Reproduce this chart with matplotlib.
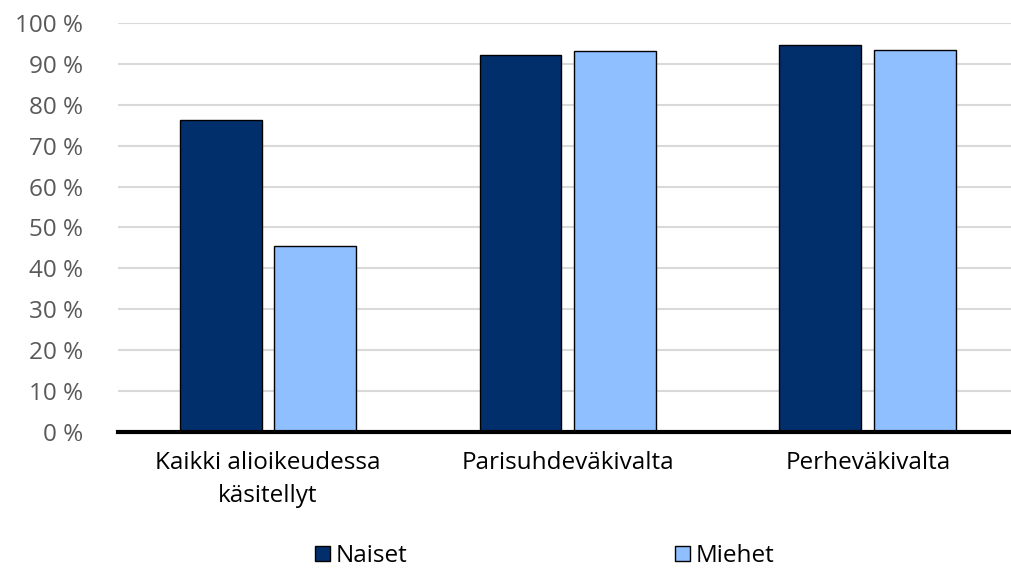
import matplotlib.pyplot as plt
import numpy as np

plt.rcParams['font.family'] = ['Open Sans', 'DejaVu Sans']

categories = ['Kaikki alioikeudessa\nkäsitellyt', 'Parisuhdeväkivalta', 'Perheväkivalta']
naiset = [76.3, 92.2, 94.6]
miehet = [45.5, 93.2, 93.4]
yticks = list(range(0, 101, 10))

fig = plt.figure(figsize=(10.11, 5.79), dpi=100)
ax = fig.add_axes([0.1167, 0.2539, 0.89, 0.7064])

x = np.arange(len(categories))
w = 0.273
off = 0.158
ax.bar(x - off, naiset, w, color='#002f6c', edgecolor='black', linewidth=1, label='Naiset', zorder=3)
ax.bar(x + off, miehet, w, color='#8fbfff', edgecolor='black', linewidth=1, label='Miehet', zorder=3)

ax.set_xlim(-0.5, 2.5)
ax.set_ylim(0, 100)
ax.set_yticks(yticks)
ax.set_yticklabels([f'{t} %' for t in yticks], color='#595959', fontsize=17.5)
ax.set_xticks(x)
ax.set_xticklabels(categories, fontsize=17.5, color='black', linespacing=1.45)
ax.tick_params(axis='x', length=0, pad=14)
ax.tick_params(axis='y', length=0, pad=25)
ax.grid(axis='y', color='#d9d9d9', linewidth=1.5, zorder=0)
for s in ['top', 'right', 'left']:
    ax.spines[s].set_visible(False)
ax.spines['bottom'].set_linewidth(3)
ax.spines['bottom'].set_zorder(4)

fig.legend(loc='center', bbox_to_anchor=(0.539, 1 - 556 / 579), ncol=2, frameon=False,
           fontsize=17.5, handlelength=0.6, handleheight=0.6, handletextpad=0.25,
           columnspacing=11.0)

fig.savefig('out.png', dpi=100)
